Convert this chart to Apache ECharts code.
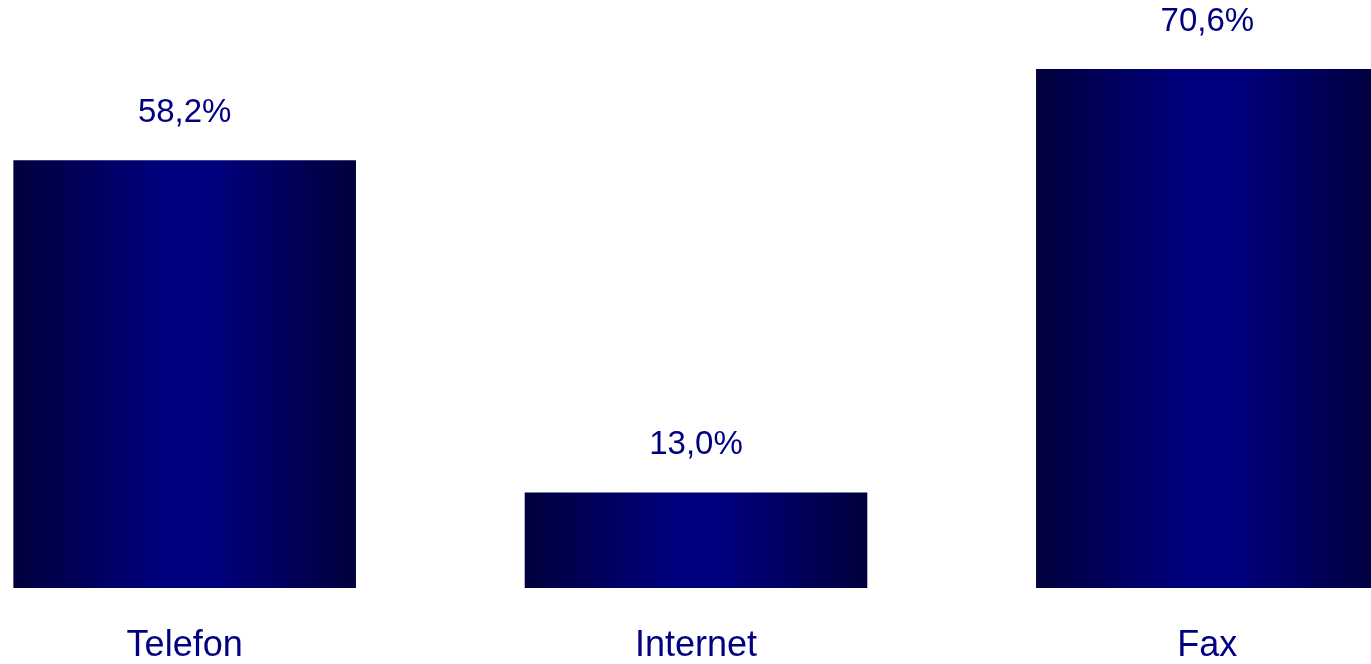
<!DOCTYPE html>
<html>
<head>
<meta charset="utf-8">
<script src="https://cdn.jsdelivr.net/npm/echarts@6/dist/echarts.min.js"></script>
<style>
  html, body { margin: 0; padding: 0; background: #ffffff; }
  #chart { width: 1371px; height: 664px; }
</style>
</head>
<body>
<div id="chart"></div>
<script>
// Share of contacts by channel (percent)
const categories = ['Telefon', 'Internet', 'Fax'];
const shares = [58.2, 13.0, 70.6];

const navy = '#000080';

// Horizontal gradient: dark edges, brighter blue in the middle
const barFill = {
  type: 'linear', x: 0, y: 0, x2: 1, y2: 0,
  colorStops: [
    { offset: 0, color: '#00003c' },
    { offset: 0.44, color: '#00007e' },
    { offset: 0.58, color: '#00007e' },
    { offset: 1, color: '#00003c' }
  ]
};

const chart = echarts.init(document.getElementById('chart'), null, { renderer: 'canvas' });
chart.setOption({
  animation: false,
  grid: {
    left: -71, width: 1534, top: 0, bottom: 76,
    containLabel: false,
    outerBoundsMode: 'none'
  },
  xAxis: {
    type: 'category',
    data: categories,
    axisLine: { show: false },
    axisTick: { show: false },
    axisLabel: {
      color: navy,
      fontFamily: 'Liberation Sans, Arial, sans-serif',
      fontSize: 36,
      margin: 40
    }
  },
  yAxis: {
    type: 'value',
    min: 0,
    max: 80,
    show: false,
    splitLine: { show: false }
  },
  series: [{
    type: 'bar',
    data: shares,
    barWidth: '67%',
    itemStyle: { color: barFill },
    label: {
      show: true,
      position: 'top',
      distance: 31,
      color: navy,
      fontFamily: 'Liberation Sans, Arial, sans-serif',
      fontSize: 33,
      formatter: p => p.value.toFixed(1).replace('.', ',') + '%'
    }
  }]
});
</script>
</body>
</html>
